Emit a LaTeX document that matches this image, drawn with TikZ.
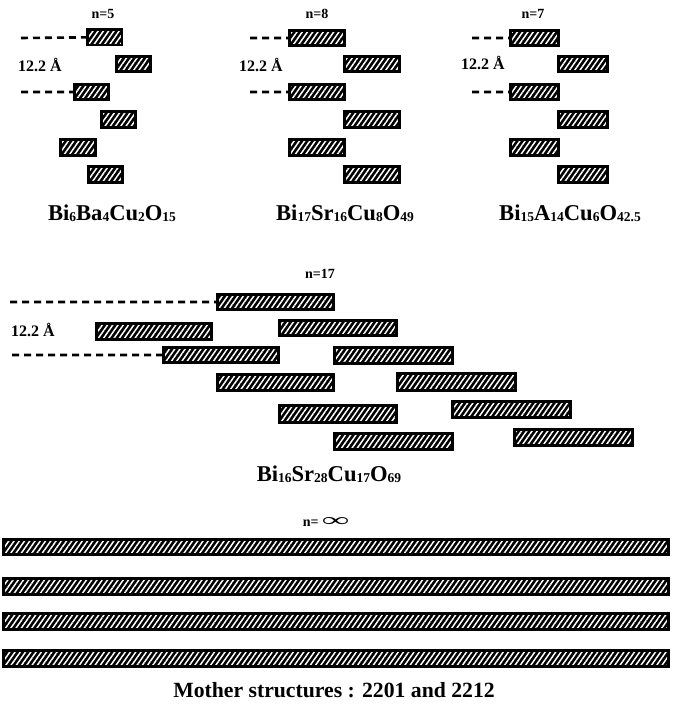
\documentclass[tikz,border=0pt]{standalone}
\usepackage{fontspec}
\setmainfont{Liberation Serif}
\usetikzlibrary{patterns.meta}
\tikzset{
  hbox/.style={draw=black, line width=2.8pt, inner sep=0pt, anchor=north west,
    preaction={fill=black},
    pattern={Lines[angle=55,distance=4.3pt,line width=1.5pt]}, pattern color=white},
  dashln/.style={line width=2.6pt, dash pattern=on 7pt off 5pt},
  nlbl/.style={font=\bfseries\fontsize{14}{14}\selectfont, inner sep=0pt},
  albl/.style={font=\bfseries\fontsize{16}{16}\selectfont, inner sep=0pt},
  flbl/.style={font=\bfseries\fontsize{22.6}{22.6}\selectfont, inner sep=0pt},
  mlbl/.style={font=\bfseries\fontsize{21.7}{21.7}\selectfont, inner sep=0pt},
}
\newcommand{\sbs}[1]{\raisebox{-1pt}{\fontsize{13.5}{13.5}\selectfont #1}}
% \hbx{name}{x1}{y1}{x2}{y2} : outer edges in px (outer sep = half line width)
\newcommand{\hbx}[5]{\node[hbox, minimum width={(#4-#2-2.8)*1pt}, minimum height={(#5-#3-2.8)*1pt}] (#1) at (#2,#3) {};}
\begin{document}
\begin{tikzpicture}[x=1pt,y=-1pt]
\useasboundingbox (0,0) rectangle (678,711);

% ---------- panel n=5 ----------
\node[nlbl] (n5) at (103,14) {n=5};
\hbx{b11}{87}{29}{124}{47}
\hbx{b12}{115}{55}{152}{73}
\hbx{b13}{73}{83}{110}{101}
\hbx{b14}{100}{110}{137}{129}
\hbx{b15}{59}{138}{97}{157}
\hbx{b16}{87}{165}{124}{184}
\coordinate (d11) at (21,38);
\coordinate (d13) at (21,92);
\draw[dashln] (d11) -- (b11.west);
\draw[dashln] (d13) -- (b13.west);
\node[albl] (a1) at (40,65) {12.2 Å};
\node[flbl] (f1) at (112,213) {Bi\sbs{6}Ba\sbs{4}Cu\sbs{2}O\sbs{15}};

% ---------- panel n=8 ----------
\node[nlbl] (n8) at (317,14) {n=8};
\hbx{b21}{288}{29}{346}{47}
\hbx{b22}{343}{55}{401}{73}
\hbx{b23}{288}{83}{346}{101}
\hbx{b24}{343}{110}{401}{129}
\hbx{b25}{288}{138}{346}{157}
\hbx{b26}{343}{165}{401}{184}
\coordinate (d21) at (250,38);
\coordinate (d23) at (250,92);
\draw[dashln] (d21) -- (b21.west);
\draw[dashln] (d23) -- (b23.west);
\node[albl] (a2) at (261,65) {12.2 Å};
\node[flbl] (f2) at (345,213) {Bi\sbs{17}Sr\sbs{16}Cu\sbs{8}O\sbs{49}};

% ---------- panel n=7 ----------
\node[nlbl] (n7) at (533,14) {n=7};
\hbx{b31}{509}{29}{560}{47}
\hbx{b32}{557}{55}{609}{73}
\hbx{b33}{509}{83}{560}{101}
\hbx{b34}{557}{110}{609}{129}
\hbx{b35}{509}{138}{560}{157}
\hbx{b36}{557}{165}{609}{184}
\coordinate (d31) at (472,38);
\coordinate (d33) at (472,92);
\draw[dashln] (d31) -- (b31.west);
\draw[dashln] (d33) -- (b33.west);
\node[albl] (a3) at (483,63) {12.2 Å};
\node[flbl] (f3) at (570,213) {Bi\sbs{15}A\sbs{14}Cu\sbs{6}O\sbs{42.5}};

% ---------- panel n=17 ----------
\node[nlbl] (n17) at (320,274) {n=17};
\hbx{m1}{216}{293}{335}{311}
\hbx{m2a}{95}{322}{213}{341}
\hbx{m2b}{278}{319}{398}{337}
\hbx{m3a}{162}{346}{280}{364}
\hbx{m3b}{333}{346}{454}{365}
\hbx{m4a}{216}{373}{335}{392}
\hbx{m4b}{396}{372}{517}{392}
\hbx{m5a}{278}{404}{398}{424}
\hbx{m5b}{451}{400}{572}{419}
\hbx{m6a}{333}{432}{454}{451}
\hbx{m6b}{513}{428}{634}{447}
\coordinate (dm1) at (10,302);
\coordinate (dm3) at (12,355);
\draw[dashln] (dm1) -- (m1.west);
\draw[dashln] (dm3) -- (m3a.west);
\node[albl] (a4) at (33,330) {12.2 Å};
\node[flbl] (f4) at (329,474) {Bi\sbs{16}Sr\sbs{28}Cu\sbs{17}O\sbs{69}};

% ---------- panel n = infinity ----------
\node[nlbl] (ninf) at (326,522) {n= \resizebox{27pt}{9pt}{∞}};
\hbx{z1}{2}{538}{670}{556}
\hbx{z2}{2}{577}{670}{596}
\hbx{z3}{2}{612}{670}{631}
\hbx{z4}{2}{649}{670}{668}
\node[mlbl] (mother) at (334,690) {Mother structures : 2201 and 2212};
\end{tikzpicture}
\end{document}
